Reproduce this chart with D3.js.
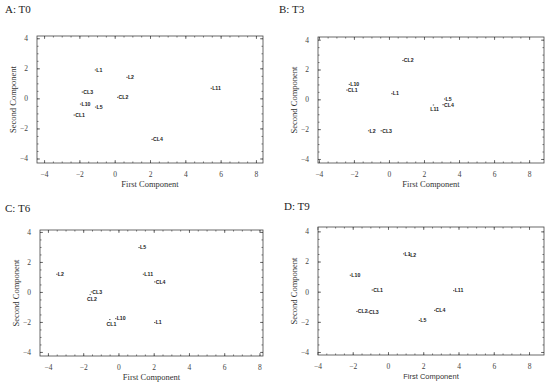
<!DOCTYPE html>
<html>
<head>
<meta charset="utf-8">
<script src="https://cdn.jsdelivr.net/npm/d3@7"></script>
<style>
  body { margin: 0; background: #fff; }
  .title { font-family: "Liberation Serif", serif; font-size: 11px; fill: #222; }
  .axlab { font-family: "Liberation Serif", serif; font-size: 8.5px; fill: #333; }
  .axlab.sans { font-family: "Liberation Sans", sans-serif; font-size: 7.5px; }
  .tick text { font-family: "Liberation Serif", serif; font-size: 7.5px; fill: #444; }
  .pt text { font-family: "Liberation Sans", Arial, sans-serif; font-size: 5.2px; font-weight: bold; fill: #1a1a1a; }
</style>
</head>
<body>
<svg id="chart" width="550" height="386"></svg>
<script>
// panel titles
const titles = ["A: T0", "B: T3", "C: T6", "D: T9"];

// scores, panel A (T0)
const namesA = ["L1", "L2", "L11", "CL3", "CL2", "L10", "L5", "CL1", "CL4"];
const pc1A = [-1.13, 0.66, 5.43, -1.87, 0.13, -1.97, -1.12, -2.33, 2.08];
const pc2A = [1.89, 1.40, 0.67, 0.42, 0.07, -0.38, -0.58, -1.11, -2.73];

// panel B (T3)
const namesB = ["CL2", "L10", "CL1", "L1", "L5", "CL4", "L11", "L2", "CL3"];
const pc1B = [0.76, -2.30, -2.44, 0.13, 3.14, 3.05, 2.50, -1.20, -0.48];
const pc2B = [2.60, 1.00, 0.62, 0.38, 0.02, -0.36, -0.38, -2.11, -2.11];

// panel C (T6)
const namesC = ["L5", "L2", "L11", "CL4", "CL3", "CL2", "L10", "CL1", "L1"];
const pc1C = [1.13, -3.53, 1.38, 2.02, -1.57, -1.64, -0.19, -0.53, 2.02];
const pc2C = [2.96, 1.18, 1.18, 0.67, 0.00, -0.18, -1.78, -1.84, -2.04];

// panel D (T9)
const namesD = ["L1", "L2", "L10", "CL1", "L11", "CL2", "CL3", "CL4", "L5"];
const pc1D = [0.85, 1.17, -2.17, -0.93, 3.69, -1.80, -1.17, 2.61, 1.74];
const pc2D = [2.51, 2.44, 1.09, 0.11, 0.07, -1.31, -1.36, -1.24, -1.91];

// labels drawn under their point instead of to the right
const belowB = ["L11"];
const belowC = ["CL2", "CL1"];

const majorTicks = [-4, -2, 0, 2, 4, 6, 8];
const majorTicksY = [-4, -2, 0, 2, 4];

// layout of each panel (frame in px, axis extents)
const panels = [
  { names: namesA, xs: pc1A, ys: pc2A, below: [], frame: [37, 36, 263, 163], xd: [-4.4, 8.4], yd: [-4.3, 4.15], title: [5, 13], sans: false },
  { names: namesB, xs: pc1B, ys: pc2B, below: belowB, frame: [318, 37, 544, 163], xd: [-4.05, 8.85], yd: [-4.27, 4.18], title: [279, 13], sans: false },
  { names: namesC, xs: pc1C, ys: pc2C, below: belowC, frame: [40, 230, 263, 356], xd: [-4.45, 8.2], yd: [-4.27, 4.13], title: [5, 212], sans: false },
  { names: namesD, xs: pc1D, ys: pc2D, below: [], frame: [318, 227, 544, 355], xd: [-3.97, 8.85], yd: [-4.2, 4.29], title: [284, 210], sans: true }
];

const svg = d3.select("#chart");

panels.forEach(function(p, i) {
  const [x0, y0, x1, y1] = p.frame;
  const x = d3.scaleLinear().domain(p.xd).range([x0, x1]);
  const y = d3.scaleLinear().domain(p.yd).range([y1, y0]);
  const g = svg.append("g");

  g.append("text").attr("class", "title")
    .attr("x", p.title[0]).attr("y", p.title[1])
    .text(titles[i]);

  // minor ticks every 0.5
  const minX = d3.range(-8, 17).map(d => d / 2).filter(v => v > p.xd[0] && v < p.xd[1]);
  const minY = d3.range(-8, 9).map(d => d / 2).filter(v => v > p.yd[0] && v < p.yd[1]);
  const majX = majorTicks.filter(v => v >= p.xd[0] - 0.06 && v <= p.xd[1]);
  const majY = majorTicksY.filter(v => v >= p.yd[0] && v <= p.yd[1]);

  function ax(axis, tr, vals, size, labels) {
    const a = g.append("g").attr("transform", tr)
      .call(axis.tickValues(vals).tickSizeInner(-size).tickSizeOuter(0)
        .tickPadding(labels ? 9 : 0).tickFormat(labels ? d3.format("d") : ""));
    a.select(".domain").remove();
    a.selectAll(".tick line").attr("stroke", "#444").attr("stroke-width", 0.7);
    return a;
  }

  // bottom / left with labels, top / right mirrored
  ax(d3.axisBottom(x), `translate(0,${y1})`, minX, 1.5, false);
  ax(d3.axisTop(x), `translate(0,${y0})`, minX, 1.5, false);
  ax(d3.axisLeft(y), `translate(${x0},0)`, minY, 1.5, false);
  ax(d3.axisRight(y), `translate(${x1},0)`, minY, 1.5, false);
  ax(d3.axisBottom(x), `translate(0,${y1})`, majX, 3, true);
  ax(d3.axisTop(x), `translate(0,${y0})`, majX, 3, false);
  ax(d3.axisLeft(y), `translate(${x0},0)`, majY, 3, true);
  ax(d3.axisRight(y), `translate(${x1},0)`, majY, 3, false);

  g.append("rect")
    .attr("x", x0).attr("y", y0)
    .attr("width", x1 - x0).attr("height", y1 - y0)
    .attr("fill", "none").attr("stroke", "#444").attr("stroke-width", 0.8);

  g.append("text").attr("class", "axlab" + (p.sans ? " sans" : ""))
    .attr("x", (x0 + x1) / 2).attr("y", y1 + 24)
    .attr("text-anchor", "middle")
    .text("First Component");

  g.append("text").attr("class", "axlab")
    .attr("transform", `translate(${x0 - 21},${(y0 + y1) / 2}) rotate(-90)`)
    .attr("text-anchor", "middle")
    .text("Second Component");

  // points with their names
  const data = p.names.map((n, k) => ({ name: n, pc1: p.xs[k], pc2: p.ys[k] }));
  const pts = g.selectAll(".pt")
    .data(data)
    .enter()
    .append("g")
    .attr("class", "pt")
    .attr("transform", d => `translate(${x(d.pc1)},${y(d.pc2)})`);

  pts.append("line")
    .attr("x1", 0).attr("x2", 1.4).attr("y1", 0).attr("y2", 0)
    .attr("stroke", "#333").attr("stroke-width", 0.8);

  pts.append("text")
    .attr("x", d => p.below.includes(d.name) ? -2.5 : 1.6)
    .attr("y", d => p.below.includes(d.name) ? 6 : 1.8)
    .text(d => d.name);
});
</script>
</body>
</html>
